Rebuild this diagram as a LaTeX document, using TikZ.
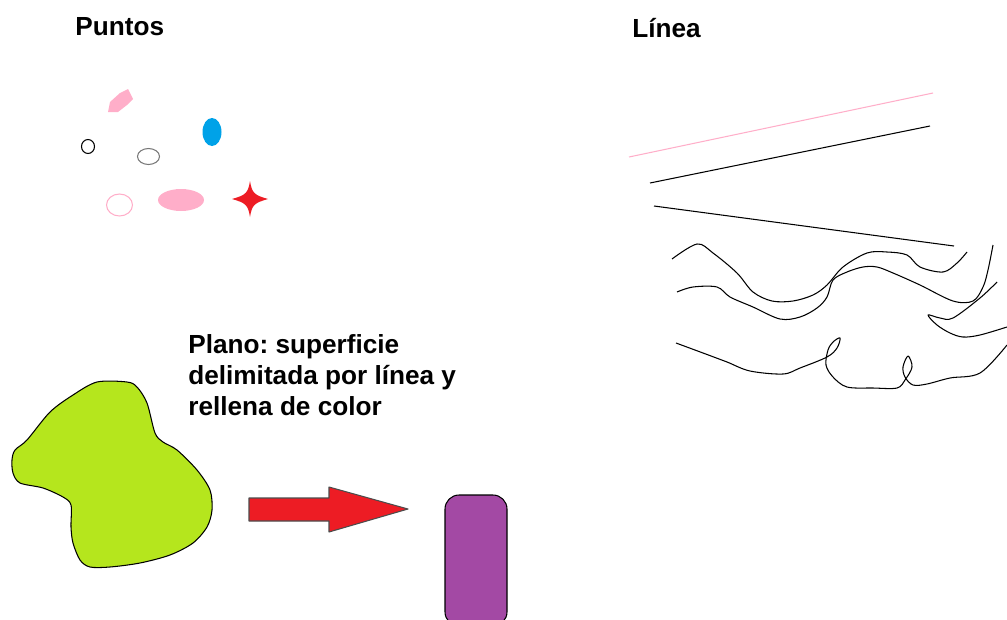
\documentclass[tikz,border=0pt]{standalone}
\usepackage{fontspec}
\setmainfont{Liberation Sans}
\usetikzlibrary{positioning}
\definecolor{pinkpt}{HTML}{FFAEC9}
\definecolor{bluept}{HTML}{00A2E8}
\definecolor{redpt}{HTML}{ED1C24}
\definecolor{greenpl}{HTML}{B5E61D}
\definecolor{purplepl}{HTML}{A349A4}
\definecolor{graypt}{HTML}{777777}
\frenchspacing

\begin{document}
\begin{tikzpicture}[x=0.02cm,y=-0.02cm,% 1 unit = 1 pixel of the sketch
			every node/.style={
				font=\fontsize{14.9}{17.6}\selectfont\bfseries,
				inner sep=0pt
			},
			title/.style={anchor=base west},
			stroke/.style={line width=0.6pt,line join=round},
			wavy/.style={stroke,smooth,tension=0.55}
		]
		\useasboundingbox (0,0) rectangle (1007,619);
		% titles
		\node[title](puntos) at (75,35) {Puntos};
		\node[title](linea) at (632,37) {Línea};
		\node[anchor=north west,align=left](plano) at (188,334) {Plano: superficie\\delimitada por línea y\\rellena de color};
		% points
		\fill[pinkpt] (108,112) -- (110,102) -- (120,93) -- (128,89) -- (133,99) -- (127,105) -- (118,112) -- cycle;
		\fill[bluept] (212,132) ellipse [x radius=9.5,y radius=14];
		\draw[stroke] (88,146.5) ellipse [x radius=6.5,y radius=7];
		\draw[stroke,graypt] (148.5,156.5) ellipse [x radius=11,y radius=8];
		\draw[stroke,pinkpt] (119.5,205) ellipse [x radius=13,y radius=11];
		\fill[pinkpt] (181,200) ellipse [x radius=23,y radius=11];
		\fill[redpt] (250,181) .. controls (252,193) and (254,195) .. (268,199) .. controls (254,203) and (252,205) .. (250,217)
			.. controls (248,205) and (246,203) .. (232,199) .. controls (246,195) and (248,193) .. (250,181) -- cycle;
		% straight lines
		\draw[stroke,pinkpt] (629,157) -- (933,93);
		\draw[stroke] (650,183) -- (930,126);
		\draw[stroke] (654,206) -- (954,246);
		% free lines
		\draw[wavy] plot coordinates {(672,259) (697,244) (713,253) (737,273) (753,292) (772,301) (793,301) (813,295) (827,285) (843,267) (867,253) (887,252) (907,255) (920,267) (943,272) (957,263) (967,252)};
		\draw[wavy] plot coordinates {(677,292) (693,287) (717,287) (730,297) (753,307) (780,319) (800,317) (817,308) (827,297) (833,280) (847,272) (863,267) (877,267) (893,273) (920,285) (953,301) (973,301) (983,287) (988,270) (993,245)};
		\draw[wavy] plot coordinates {(997,282) (980,298) (953,318) (940,318) (928,315) (937,325) (950,333) (963,337) (980,335) (1007,327)};
		\draw[wavy] plot coordinates {(676,343) (703,353) (727,362) (750,371) (783,374) (800,368) (827,357) (837,348) (840,338) (833,342) (828,350) (826,365) (833,377) (847,387) (873,388) (897,388) (905,380) (912,367) (908,356) (903,367) (905,377) (913,385) (927,384) (950,378) (980,373) (1007,345)};
		% plane
		\filldraw[stroke,fill=greenpl,smooth cycle,tension=0.5] plot coordinates {(15,450) (27,440) (50,412) (73,395) (97,382) (127,382) (137,387) (147,403) (155,433) (163,442) (177,450) (197,470) (210,490) (212,510) (207,527) (193,543) (170,555) (140,563) (110,567) (90,567) (80,560) (73,543) (71,527) (71,505) (63,497) (43,488) (20,483) (13,473) (12,460)};
		\filldraw[stroke,fill=redpt,draw=black!70] (249,498) -- (329,498) -- (329,487) -- (408,509) -- (329,532) -- (329,521) -- (249,521) -- cycle;
		\filldraw[stroke,fill=purplepl,rounded corners=8pt] (445,495) rectangle (507,626);
	\end{tikzpicture}
\end{document}
